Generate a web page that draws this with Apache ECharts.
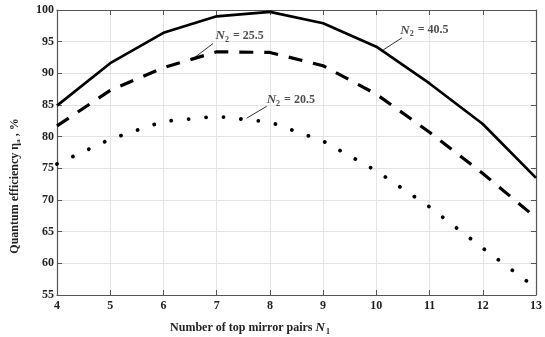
<!DOCTYPE html>
<html><head><meta charset="utf-8">
<script src="https://cdn.jsdelivr.net/npm/echarts@6/dist/echarts.min.js"></script>
<style>html,body{margin:0;padding:0;background:#fff}#c{width:545px;height:337px}</style>
</head><body><div id="c"></div>
<script>
const xValues = [4, 5, 6, 7, 8, 9, 10, 11, 12, 13];
const eta405 = [84.9, 91.6, 96.4, 99.0, 99.7, 97.9, 94.2, 88.4, 82.0, 73.5];
const eta255 = [81.7, 87.3, 90.9, 93.4, 93.3, 91.2, 86.7, 80.7, 74.2, 67.2];
const eta205 = [75.7, 79.6, 82.4, 83.2, 82.3, 79.3, 74.6, 68.9, 62.4, 56.1];
const yTicks = [55, 60, 65, 70, 75, 80, 85, 90, 95, 100];
const annoLabels = ['25.5', '40.5', '20.5'];
const annoPos = [[6.98, 95.9], [10.45, 96.8], [7.94, 85.8]];
const leaders = [[[6.57, 92.4], [6.93, 94.7]], [[10.13, 93.7], [10.48, 95.6]], [[7.56, 82.9], [7.94, 84.8]]];

const FONT = '"Liberation Serif", "Times New Roman", serif';
const chart = echarts.init(document.getElementById('c'));
const pair = (ys) => xValues.map((x, i) => [x, ys[i]]);
const axisCommon = {
  axisLine: { show: true, lineStyle: { color: '#555', width: 1.2 } },
  axisTick: { show: true, inside: true, length: 5, lineStyle: { color: '#555' } }
};
chart.setOption({
  animation: false,
  grid: { left: 57, right: 5, top: 10, bottom: 42 },
  xAxis: [
    Object.assign({ type: 'value', min: 4, max: 13, interval: 1,
      axisLabel: { fontFamily: FONT, fontWeight: 'bold', fontSize: 12, color: '#222', margin: 5 },
      splitLine: { show: true, lineStyle: { color: '#e4e4e4', width: 1 } } }, axisCommon),
    Object.assign({ type: 'value', position: 'top', min: 4, max: 13, interval: 1,
      axisLabel: { show: false }, splitLine: { show: false } }, axisCommon)
  ],
  yAxis: [
    Object.assign({ type: 'value', min: 55, max: 100, interval: 5,
      axisLabel: { fontFamily: FONT, fontWeight: 'bold', fontSize: 12, color: '#222', margin: 3,
        formatter: (v) => yTicks.includes(v) ? String(v) : '' },
      splitLine: { show: true, lineStyle: { color: '#e4e4e4', width: 1 } } }, axisCommon),
    Object.assign({ type: 'value', position: 'right', min: 55, max: 100, interval: 5,
      axisLabel: { show: false }, splitLine: { show: false } }, axisCommon)
  ],
  series: [
    { type: 'line', data: pair(eta405), symbol: 'none', z: 5,
      lineStyle: { color: '#000', width: 2.7 } },
    { type: 'line', data: pair(eta255), symbol: 'none', z: 5,
      lineStyle: { color: '#000', width: 3.2, type: [14, 11] } },
    { type: 'line', data: pair(eta205), symbol: 'none', z: 5,
      lineStyle: { color: '#000', width: 3.8, type: [0.01, 17.5], cap: 'round' } },
    { type: 'scatter', symbolSize: 0, z: 6,
      data: annoPos.map((p, i) => ({ value: p, name: annoLabels[i] })),
      label: { show: true, position: 'right', distance: 0,
        formatter: (p) => '{n|N}{s|2}{t| = ' + p.name + '}',
        rich: {
          n: { fontFamily: FONT, fontStyle: 'italic', fontWeight: 'bold', fontSize: 13, color: '#222' },
          s: { fontFamily: FONT, fontWeight: 'bold', fontSize: 8, color: '#222', verticalAlign: 'bottom', padding: [8, 1, 0, 0] },
          t: { fontFamily: FONT, fontWeight: 'bold', fontSize: 12, color: '#222' }
        } },
      markLine: { silent: true, symbol: 'none', animation: false,
        lineStyle: { color: '#333', width: 1, type: 'solid' }, label: { show: false },
        data: leaders.map((l) => [{ coord: l[0] }, { coord: l[1] }]) } }
  ],
  graphic: [
    { type: 'text', x: 15, y: 186, rotation: Math.PI / 2, style: {
      text: 'Quantum efficiency η{s|a} , %', align: 'center', verticalAlign: 'middle',
      font: 'bold 12px ' + FONT, fill: '#222',
      rich: { s: { fontFamily: FONT, fontWeight: 'bold', fontSize: 7, fill: '#222', padding: [6, 0, 0, 0] } } } },
    { type: 'text', x: 250, y: 328, style: {
      text: 'Number of top mirror pairs {n|N}{s|1}', align: 'center', verticalAlign: 'middle',
      font: 'bold 12px ' + FONT, fill: '#222',
      rich: { n: { fontFamily: FONT, fontStyle: 'italic', fontWeight: 'bold', fontSize: 13, fill: '#222' },
              s: { fontFamily: FONT, fontWeight: 'bold', fontSize: 8, fill: '#222', padding: [8, 0, 0, 1] } } } }
  ]
});
</script></body></html>
